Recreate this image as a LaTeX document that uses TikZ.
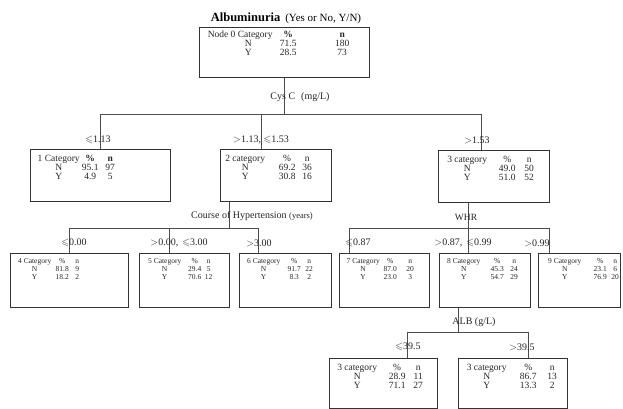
\documentclass[tikz,border=0pt]{standalone}
\usepackage{fontspec}
\setmainfont{Liberation Serif}
\usepackage{amssymb}
\usepackage{array}
\setlength{\tabcolsep}{0pt}
% one box of counts: column spec, header row, N row, Y row
\newcommand{\cattab}[4]{\begin{tabular}{#1}#2\\#3\\#4\end{tabular}}
\newcommand{\lsl}{$\leqslant$}
\tikzset{
  catbox/.style={draw=black!80, line width=1pt, anchor=north west, inner sep=0pt},
  bigtab/.style={anchor=north west, inner sep=0pt, text=black!85, font=\fontsize{9.5}{8.5}\selectfont},
  smalltab/.style={anchor=north west, inner sep=0pt, text=black!85, font=\fontsize{7.5}{8}\selectfont}
}
\begin{document}
\begin{tikzpicture}[x=1pt, y=-1pt,
    link/.style={draw=black!70, line width=0.8pt},
    cut/.style={inner sep=0pt, text=black!85, font=\fontsize{10}{10}\selectfont}]
  \fill[white] (0,0) rectangle (623,409);
  \useasboundingbox (0,0) rectangle (623,409);

  % root
  \node[inner sep=0pt] (title) at (286,18)
    {\fontsize{12.5}{12.5}\selectfont\textbf{Albuminuria}\hspace{5pt}\fontsize{11}{11}\selectfont(Yes or No, Y/N)};
  \node[catbox, minimum width=170pt, minimum height=50pt] (n0) at (199,27) {};
  \node[bigtab] (t0) at (207,31) {\cattab{w{c}{66pt}w{c}{30pt}w{c}{78pt}}
    {Node 0 Category & \textbf{\%} & \textbf{n}}{\hspace*{16pt}N & 71.5 & 180}{\hspace*{16pt}Y & 28.5 & 73}};

  % first split
  \node[catbox, minimum width=140pt, minimum height=52pt] (n1) at (30,149) {};
  \node[catbox, minimum width=111pt, minimum height=52pt] (n2) at (220,149) {};
  \node[catbox, minimum width=111pt, minimum height=52pt] (n3) at (438,150) {};
  \node[bigtab] (t1) at (37,155) {\cattab{w{c}{43pt}w{c}{20pt}w{c}{20pt}}
    {1 Category & \textbf{\%} & \textbf{n}}{N & 95.1 & 97}{Y & 4.9 & 5}};
  \node[bigtab] (t2) at (223,155) {\cattab{w{c}{44pt}@{\hspace{10pt}}w{c}{20pt}w{c}{20pt}}
    {2 category & \% & n}{N & 69.2 & 36}{Y & 30.8 & 16}};
  \node[bigtab] (t3) at (447,156) {\cattab{w{c}{40pt}@{\hspace{9pt}}w{c}{22pt}w{c}{22pt}}
    {3 category & \% & n}{N & 49.0 & 50}{Y & 51.0 & 52}};

  % second split
  \node[catbox, minimum width=118pt, minimum height=54pt] (n4) at (10,253) {};
  \node[catbox, minimum width=90pt, minimum height=54pt] (n5) at (139,253) {};
  \node[catbox, minimum width=92pt, minimum height=54pt] (n6) at (239,253) {};
  \node[catbox, minimum width=90pt, minimum height=54pt] (n7) at (339,253) {};
  \node[catbox, minimum width=91pt, minimum height=54pt] (n8) at (439,253) {};
  \node[catbox, minimum width=82pt, minimum height=54pt] (n9) at (538,253) {};
  \node[smalltab] (t4) at (17,258) {\cattab{w{c}{35pt}@{\hspace{2.5pt}}w{c}{15pt}w{c}{15pt}}
    {4 Category & \% & n}{N & 81.8 & 9}{Y & 18.2 & 2}};
  \node[smalltab] (t5) at (147,258) {\cattab{w{c}{35pt}@{\hspace{5.5pt}}w{c}{14pt}w{c}{14pt}}
    {5 Category & \% & n}{N & 29.4 & 5}{Y & 70.6 & 12}};
  \node[smalltab] (t6) at (246,258) {\cattab{w{c}{35pt}@{\hspace{5.5pt}}w{c}{15pt}w{c}{15pt}}
    {6 Category & \% & n}{N & 91.7 & 22}{Y & 8.3 & 2}};
  \node[smalltab] (t7) at (346,258) {\cattab{w{c}{34pt}w{c}{20pt}w{c}{20pt}}
    {7 Category & \% & n}{N & 87.0 & 20}{Y & 23.0 & 3}};
  \node[smalltab] (t8) at (446,258) {\cattab{w{c}{35pt}@{\hspace{7.5pt}}w{c}{17pt}w{c}{17pt}}
    {8 Category & \% & n}{N & 45.3 & 24}{Y & 54.7 & 29}};
  \node[smalltab] (t9) at (547,258) {\cattab{w{c}{35pt}@{\hspace{10.5pt}}w{c}{15pt}w{c}{15pt}}
    {9 Category & \% & n}{N & 23.1 & 6}{Y & 76.9 & 20}};

  % third split
  \node[catbox, minimum width=108pt, minimum height=50pt] (n10) at (329,358) {};
  \node[catbox, minimum width=109pt, minimum height=50pt] (n11) at (458,358) {};
  \node[bigtab] (t10) at (337,364) {\cattab{w{c}{40pt}@{\hspace{9.5pt}}w{c}{21pt}w{c}{21pt}}
    {3 category & \% & n}{N & 28.9 & 11}{Y & 71.1 & 27}};
  \node[bigtab] (t11) at (466,364) {\cattab{w{c}{41pt}@{\hspace{9pt}}w{c}{24pt}w{c}{24pt}}
    {3 category & \% & n}{N & 86.7 & 13}{Y & 13.3 & 2}};

  % connectors
  \coordinate (b0) at (288,114);
  \coordinate (d2) at ([xshift=-14.5pt]n2.north);
  \coordinate (d3) at ([xshift=-12.5pt]n3.north);
  \draw[link] (n0.south) -- (n0.south |- b0);
  \draw[link] (b0 -| n1.north) -- (b0 -| d3);
  \foreach \d in {n1.north, d2, d3}
    \draw[link] (b0 -| \d) -- (\d);

  \coordinate (u2) at ([xshift=-46.5pt]n2.south);
  \coordinate (b1) at (229,228);
  \coordinate (d5) at ([xshift=-15pt]n5.north);
  \coordinate (d6) at ([xshift=-27pt]n6.north);
  \draw[link] (u2) -- (u2 |- b1);
  \draw[link] (b1 -| n4.north) -- (b1 -| d6);
  \foreach \d in {n4.north, d5, d6}
    \draw[link] (b1 -| \d) -- (\d);

  \coordinate (u3) at ([xshift=-25.5pt]n3.south);
  \coordinate (b2) at (468,228);
  \coordinate (d7) at ([xshift=-35pt]n7.north);
  \coordinate (d8) at ([xshift=-16.5pt]n8.north);
  \coordinate (d9) at ([xshift=-30.5pt]n9.north);
  \draw[link] (u3) -- (u3 |- b2);
  \draw[link] (b2 -| d7) -- (b2 -| d9);
  \foreach \d in {d7, d8, d9}
    \draw[link] (b2 -| \d) -- (\d);

  \coordinate (u8) at ([xshift=-26.5pt]n8.south);
  \coordinate (b3) at (458,332);
  \coordinate (d10) at ([xshift=24pt]n10.north);
  \coordinate (d11) at ([xshift=15.5pt]n11.north);
  \draw[link] (u8) -- (u8 |- b3);
  \draw[link] (b3 -| d10) -- (b3 -| d11);
  \foreach \d in {d10, d11}
    \draw[link] (b3 -| \d) -- (\d);

  % split variables
  \node[cut] (cys) at (300,97) {Cys C\hspace{6pt}(mg/L)};
  \node[cut] (hyp) at (252,216) {Course of Hypertension {\fontsize{8.5}{8.5}\selectfont(years)}};
  \node[cut, font=\fontsize{9.5}{9.5}\selectfont] (whr) at (466,217) {WHR};
  \node[cut] (alb) at (474,322) {ALB (g/L)};

  % cut points
  \node[cut] (c1) at (98,140) {\lsl1.13};
  \node[cut] (c2) at (261,140) {$>$1.13, \lsl1.53};
  \node[cut] (c3) at (477,140) {$>$1.53};
  \node[cut] (c4) at (74,243) {\lsl0.00};
  \node[cut] (c5) at (179,243) {$>$0.00,\hspace{4pt}\lsl3.00};
  \node[cut] (c6) at (259,243) {$>$3.00};
  \node[cut] (c7) at (358,243) {\lsl0.87};
  \node[cut] (c8) at (463,243) {$>$0.87,\hspace{4pt}\lsl0.99};
  \node[cut] (c9) at (537,243) {$>$0.99};
  \node[cut] (c10) at (408,347) {\lsl39.5};
  \node[cut] (c11) at (522,347) {$>$39.5};
\end{tikzpicture}
\end{document}
